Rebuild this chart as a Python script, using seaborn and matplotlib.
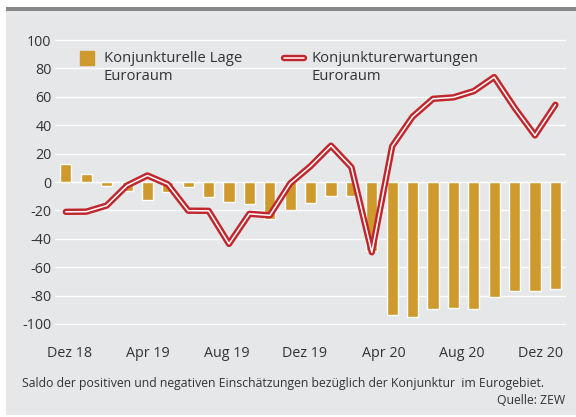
import numpy as np
import pandas as pd
import matplotlib
matplotlib.use("Agg")
import matplotlib.pyplot as plt
import matplotlib.patheffects as pe
from matplotlib.lines import Line2D
from matplotlib.patches import Rectangle
import seaborn as sns

# ---- data ----
months = ["Dez 18", "Jan 19", "Feb 19", "Mär 19", "Apr 19", "Mai 19", "Jun 19", "Jul 19",
          "Aug 19", "Sep 19", "Okt 19", "Nov 19", "Dez 19", "Jan 20", "Feb 20", "Mär 20",
          "Apr 20", "Mai 20", "Jun 20", "Jul 20", "Aug 20", "Sep 20", "Okt 20", "Nov 20", "Dez 20"]
lage = [12.4, 5.6, -3.0, -6.2, -12.7, -6.8, -3.3, -10.4, -14.0, -15.5, -26.0, -19.7,
        -14.6, -9.6, -9.6, -48.4, -93.4, -94.8, -89.2, -88.5, -89.2, -80.7, -76.5, -76.5, -75.1]
erwartungen = [-21.0, -20.9, -16.6, -2.5, 4.6, -1.6, -20.2, -20.3, -43.6, -22.4, -23.5, -1.0,
               11.2, 25.6, 10.4, -49.5, 25.2, 46.0, 58.6, 59.6, 64.0, 73.9, 52.3, 32.8, 54.4]
tick_labels = ["Dez 18", "Apr 19", "Aug 19", "Dez 19", "Apr 20", "Aug 20", "Dez 20"]
y_ticks = [-100, -80, -60, -40, -20, 0, 20, 40, 60, 80, 100]
label_lage = "Konjunkturelle Lage\nEuroraum"
label_erw = "Konjunkturerwartungen\nEuroraum"
caption = "Saldo der positiven und negativen Einschätzungen bezüglich der Konjunktur  im Eurogebiet."
source = "Quelle: ZEW"

df = pd.DataFrame({"idx": np.arange(len(months)), "month": months,
                   "lage": lage, "erw": erwartungen})

GOLD = "#cf9a2d"
RED = "#c0272d"
BG = "#e6e7e8"
TXT = "#333333"
FONT = "Open Sans"

sns.set_theme(style="white")
plt.rcParams["font.family"] = [FONT, "DejaVu Sans"]

W, H = 576, 417
fig = plt.figure(figsize=(W / 100, H / 100), dpi=100, facecolor="white")

# background panel and top rule
fig.patches.append(Rectangle((6 / W, 2 / H), 1 - 6 / W, (H - 10.7 - 2) / H,
                             transform=fig.transFigure, facecolor=BG, edgecolor="none", zorder=-2))
fig.patches.append(Rectangle((6 / W, (H - 10.7) / H), 1 - 6 / W, 4 / H,
                             transform=fig.transFigure, facecolor="#878787", edgecolor="none", zorder=-1))

ax_left = 55 / W
ax_right = 566 / W
ax_bottom = (H - 325.4) / H
ax_top = 1 - 38.6 / H
ax = fig.add_axes([ax_left, ax_bottom, ax_right - ax_left, ax_top - ax_bottom])
ax.set_facecolor(BG)

ax.set_axisbelow(True)
ax.grid(axis="y", color="white", linewidth=1.0)
ax.grid(axis="x", visible=False)

sns.barplot(data=df, x="idx", y="lage", native_scale=True, color=GOLD, width=0.54,
            saturation=1, errorbar=None, ax=ax, zorder=2)
sns.lineplot(data=df, x="idx", y="erw", color="white", linewidth=1.1, ax=ax, zorder=3,
             path_effects=[pe.Stroke(linewidth=4.6, foreground=RED), pe.Normal()])

n = len(months)
ax.set_xlim(-0.53, n - 1 + 0.52)
ax.set_ylim(-101, 101)
ax.set_yticks(y_ticks)
ax.set_yticklabels([str(v) for v in y_ticks])
# the source chart spaces its date labels evenly, slightly tighter than the bars
ax.set_xticks(np.linspace(0.2, 23.25, len(tick_labels)))
ax.set_xticklabels(tick_labels)
ax.set_xlabel("")
ax.set_ylabel("")
for s in ax.spines.values():
    s.set_visible(False)
ax.tick_params(axis="y", length=0, pad=2.5, labelsize=10.3, labelcolor=TXT)
ax.tick_params(axis="x", length=0, pad=15, labelsize=10.3, labelcolor=TXT)

# legend
fs = 10.7
h_bar = Line2D([], [], linestyle="none", marker="s", markersize=10.2, color=GOLD)
h_line = ax.lines[-1]
leg = ax.legend([h_bar, h_line], [label_lage, label_erw], ncol=2, frameon=False,
                loc="upper left", bbox_to_anchor=(77 / W, 1 - 51 / H),
                bbox_transform=fig.transFigure, fontsize=fs, handlelength=1.3,
                handletextpad=0.5, columnspacing=2.85, borderaxespad=0, borderpad=0,
                labelspacing=0)
for t in leg.get_texts():
    t.set_color(TXT)
    t.set_linespacing(1.24)
for h in leg.legend_handles:
    h.set_ydata(np.asarray(h.get_ydata()) + 0.66 * fs)

fig.text(22 / W, 1 - 384 / H, caption, fontsize=8.8, color=TXT, va="center", ha="left")
fig.text(565 / W, 1 - 400 / H, source, fontsize=8.8, color=TXT, va="center", ha="right")

fig.savefig("out.png", dpi=100, facecolor="white")
